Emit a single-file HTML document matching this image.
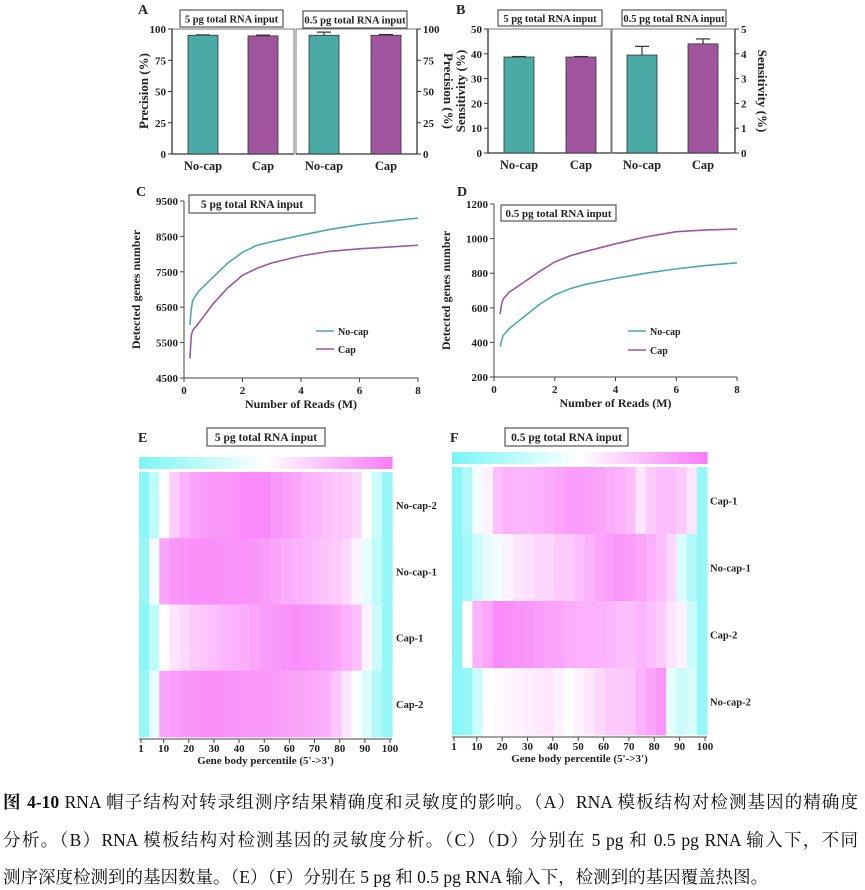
<!DOCTYPE html>
<html><head><meta charset="utf-8">
<style>
html,body{margin:0;padding:0;background:#fff;}
body{width:865px;height:890px;position:relative;overflow:hidden;}
svg{position:absolute;left:0;top:0;}
svg text{font-family:"Liberation Serif","Noto Serif CJK SC",serif;font-weight:bold;fill:#222;}
.cap{position:absolute;left:3px;width:855px;font-family:"Liberation Serif","Noto Serif CJK SC",serif;font-size:17.5px;color:#111;white-space:nowrap;text-align:justify;text-align-last:justify;line-height:20px;}
</style></head>
<body>
<svg id="fig" width="865" height="780"></svg>
<div class="cap" style="top:792px"><b>图 4-10</b> RNA 帽子结构对转录组测序结果精确度和灵敏度的影响。（A）RNA 模板结构对检测基因的精确度</div>
<div class="cap" style="top:830px">分析。（B）RNA 模板结构对检测基因的灵敏度分析。（C）（D）分别在 5 pg 和 0.5 pg RNA 输入下，不同</div>
<div class="cap" style="top:867px;width:auto;text-align-last:auto">测序深度检测到的基因数量。（E）（F）分别在 5 pg 和 0.5 pg RNA 输入下，检测到的基因覆盖热图。</div>
<script>
// ---- data ----
const barCats = ["No-cap","Cap"];
const precision5 = [95, 94.5];
const precision5Err = [0.3, 0.6];
const precision05 = [95, 95];
const precision05Err = [2.5, 0.6];
const sens5 = [38.7, 38.7];
const sens5Err = [0.2, 0.2];
const sens05 = [3.95, 4.4];
const sens05Err = [0.35, 0.2];
const precTicks = [0,25,50,75,100];
const sens5Ticks = [0,10,20,30,40,50];
const sens05Ticks = [0,1,2,3,4,5];

const readsX = [0.2,0.25,0.3,0.5,1,1.5,2,2.5,3,4,5,6,7,8];
const cNoCap = [6000,6450,6700,6950,7350,7750,8050,8250,8350,8530,8700,8830,8930,9020];
const cCap   = [5050,5700,5850,6050,6600,7050,7400,7600,7750,7950,8080,8150,8200,8250];
const dNoCap = [375,410,440,480,550,620,675,710,735,770,800,825,845,860];
const dCap   = [565,620,650,690,750,810,865,900,925,970,1010,1040,1050,1055];
const cYTicks = [4500,5500,6500,7500,8500,9500];
const dYTicks = [200,400,600,800,1000,1200];
const xTicks = [0,2,4,6,8];

const heatTicks = [1,10,20,30,40,50,60,70,80,90,100];
const eRows = ["No-cap-2","No-cap-1","Cap-1","Cap-2"];
const eNoCap2 = [0.05,0.25,0.5,0.7,0.8,0.85,0.88,0.9,0.9,0.92,0.95,0.95,0.95,0.9,0.88,0.85,0.8,0.78,0.75,0.72,0.7,0.65,0.5,0.3,0.1];
const eNoCap1 = [0.1,0.45,0.85,0.9,0.92,0.93,0.93,0.93,0.92,0.92,0.92,0.9,0.88,0.85,0.82,0.8,0.78,0.75,0.72,0.7,0.65,0.55,0.4,0.25,0.1];
const eCap1 = [0.05,0.25,0.5,0.6,0.65,0.7,0.72,0.75,0.78,0.8,0.82,0.85,0.88,0.9,0.92,0.93,0.92,0.9,0.88,0.85,0.8,0.75,0.55,0.3,0.1];
const eCap2 = [0.1,0.4,0.85,0.88,0.9,0.92,0.93,0.93,0.92,0.92,0.9,0.9,0.9,0.88,0.87,0.85,0.85,0.82,0.8,0.72,0.6,0.5,0.35,0.2,0.1];
const fRows = ["Cap-1","No-cap-1","Cap-2","No-cap-2"];
const fCap1 = [0.05,0.2,0.45,0.55,0.75,0.8,0.78,0.78,0.8,0.82,0.85,0.88,0.88,0.87,0.85,0.82,0.8,0.75,0.6,0.7,0.75,0.75,0.7,0.6,0.1];
const fNoCap1 = [0.05,0.15,0.3,0.4,0.45,0.55,0.6,0.62,0.65,0.65,0.7,0.7,0.75,0.8,0.85,0.88,0.9,0.88,0.85,0.8,0.75,0.65,0.35,0.2,0.1];
const fCap2 = [0.05,0.5,0.8,0.85,0.95,0.93,0.92,0.9,0.88,0.85,0.85,0.82,0.8,0.8,0.8,0.78,0.75,0.75,0.78,0.75,0.7,0.6,0.55,0.3,0.1];
const fNoCap2 = [0.05,0.1,0.3,0.5,0.52,0.53,0.55,0.57,0.58,0.6,0.55,0.5,0.55,0.6,0.65,0.7,0.7,0.72,0.8,0.85,0.9,0.4,0.3,0.35,0.1];

const NS="http://www.w3.org/2000/svg";
const svg=document.getElementById('fig');
function mk(tag,attrs,parent){const e=document.createElementNS(NS,tag);for(const k in attrs)e.setAttribute(k,attrs[k]);(parent||svg).appendChild(e);return e;}
function txt(x,y,s,size,anchor,parent,rot){const t=mk('text',{x:x,y:y,'font-size':size,'text-anchor':anchor||'middle'},parent);if(rot)t.setAttribute('transform','rotate('+rot+' '+x+' '+y+')');t.textContent=s;return t;}
function lin(d0,d1,r0,r1){return v=>r0+(v-d0)*(r1-r0)/(d1-d0);}

function label(x,y,s){const t=txt(x,y,s,14,'start');

}
function titleBox(x,y,w,h,s,fs){const g=mk('g',{});


mk('rect',{x:x,y:y,width:w,height:h,fill:'#fff',stroke:'#555','stroke-width':1.2},g);txt(x+w/2,y+h/2+4,s,fs||11.5,'middle',g);}

const TEAL='#4aaaa5', PURP='#a0559e';
function barPanel(x0,x1,yTop,yBot,max,vals,errs,barX,ticks,side,frame,name){
  const g=mk('g',{});
  
  
  const ys=lin(0,max,yBot,yTop);
  if(frame) mk('rect',{x:x0,y:yTop,width:x1-x0,height:yBot-yTop,fill:'none',stroke:'#777','stroke-width':1},g);
  const ax = side==='left'?x0:x1;
  mk('line',{x1:ax,y1:yTop,x2:ax,y2:yBot,stroke:'#333','stroke-width':1.3},g);
  mk('line',{x1:x0,y1:yBot,x2:x1,y2:yBot,stroke:'#333','stroke-width':1.3},g);
  ticks.forEach(t=>{const y=ys(t);const d=side==='left'?-4:4;
    mk('line',{x1:ax,y1:y,x2:ax+d,y2:y,stroke:'#333'},g);
    txt(ax+(side==='left'?-6:6),y+4,String(t),11,side==='left'?'end':'start',g);});
  vals.forEach((v,i)=>{const bx=barX[i];const by=ys(v);
    const r=mk('rect',{x:bx,y:by,width:30,height:yBot-by,fill:i===0?TEAL:PURP,stroke:'#333','stroke-width':0.8},g);
    
    
    const ey=ys(v+errs[i]);
    mk('line',{x1:bx+15,y1:by,x2:bx+15,y2:ey,stroke:'#333','stroke-width':1.2},g);
    mk('line',{x1:bx+8,y1:ey,x2:bx+22,y2:ey,stroke:'#333','stroke-width':1.2},g);
    txt(bx+15,yBot+16,barCats[i],12.5,'middle',g);
  });
}
label(138,14,'A');
barPanel(172,294,29,154,100,precision5,precision5Err,[188,248],precTicks,'left',true,'precision-5pg-chart');
barPanel(296,417,29,154,100,precision05,precision05Err,[309,371],precTicks,'right',true,'precision-05pg-chart');
titleBox(180,10,103,17,'5 pg total RNA input',10.5);
titleBox(303,11,104,17,'0.5 pg total RNA input',10.5);
txt(148,91,'Precision (%)',13,'middle',null,-90);
txt(444,91,'Precision (%)',13,'middle',null,90);
label(456,14,'B');
barPanel(488,611,29,153,50,sens5,sens5Err,[504,566],sens5Ticks,'left',true,'sensitivity-5pg-chart');
barPanel(612,735,29,153,5,sens05,sens05Err,[627,688],sens05Ticks,'right',true,'sensitivity-05pg-chart');
titleBox(498,10,104,16,'5 pg total RNA input',10.5);
titleBox(622,10,104,16,'0.5 pg total RNA input',10.5);
txt(465,91,'Sensitivity (%)',13,'middle',null,-90);
txt(758,91,'Sensitivity (%)',13,'middle',null,90);

function linePanel(x0,x1,yTop,yBot,ymin,ymax,yt,series,names,colors,legX,legY,name){
  const g=mk('g',{});
  
  
  const xs=lin(0,8,x0,x1), ys=lin(ymin,ymax,yBot,yTop);
  mk('line',{x1:x0,y1:yTop,x2:x0,y2:yBot,stroke:'#444'},g);
  mk('line',{x1:x0,y1:yBot,x2:x1,y2:yBot,stroke:'#444'},g);
  yt.forEach(t=>{const y=ys(t);mk('line',{x1:x0-4,y1:y,x2:x0,y2:y,stroke:'#444'},g);txt(x0-6,y+4,String(t),11,'end',g);});
  xTicks.forEach(t=>{const x=xs(t);mk('line',{x1:x,y1:yBot,x2:x,y2:yBot+4,stroke:'#444'},g);txt(x,yBot+16,String(t),11,'middle',g);});
  series.forEach((s,i)=>{
    const p=mk('polyline',{points:s.map((v,j)=>xs(readsX[j])+','+ys(v)).join(' '),fill:'none',stroke:colors[i],'stroke-width':1.6},g);
    
    
    const ly=legY[i];
    mk('line',{x1:legX,y1:ly,x2:legX+18,y2:ly,stroke:colors[i],'stroke-width':1.6},g);
    txt(legX+22,ly+4,names[i],10,'start',g);
  });
  txt((x0+x1)/2,yBot+30,'Number of Reads (M)',12,'middle',g);
  txt(x0-44,(yTop+yBot)/2,'Detected genes number',12,'middle',g,-90);
}
label(136,196,'C');
linePanel(184,418,201,378,4500,9500,cYTicks,[cNoCap,cCap],['No-cap','Cap'],[TEAL,PURP],316,[331,349],'genes-5pg-chart');
titleBox(189,195,126,18,'5 pg total RNA input');
label(457,196,'D');
linePanel(494,737,204,377,200,1200,dYTicks,[dNoCap,dCap],['No-cap','Cap'],[TEAL,PURP],628,[331,350],'genes-05pg-chart');
titleBox(501,205,115,16,'0.5 pg total RNA input',11);

function col(v){const c=[125,245,245],w=[255,255,255],m=[248,125,248];let a,b,t;
  if(v<0.5){a=c;b=w;t=v/0.5;}else{a=w;b=m;t=(v-0.5)/0.5;}
  return 'rgb('+a.map((x,i)=>Math.round(x+(b[i]-x)*t)).join(',')+')';}
function heat(x0,x1,cbY,cbH,yTop,yBot,rows,data,labX,name){
  const g=mk('g',{});
  
  
  const N=60;
  const cb=mk('g',{},g);
  
  
  for(let i=0;i<N;i++){mk('rect',{x:x0+(x1-x0)*i/N,y:cbY,width:(x1-x0)/N+0.6,height:cbH,fill:col(i/(N-1))},cb);}
  const rh=(yBot-yTop)/rows.length;
  data.forEach((row,r)=>{
    const n=row.length;
    row.forEach((v,i)=>{
      const c=mk('rect',{x:x0+(x1-x0)*i/n,y:yTop+r*rh,width:(x1-x0)/n+0.6,height:rh+0.4,fill:col(v)},g);
      
      
    });
    txt(labX,yTop+r*rh+rh/2+4,rows[r],10.5,'start',g);
  });
  const xs=lin(1,100,x0+2,x1-2);
  mk('line',{x1:x0,y1:yBot+2,x2:x1,y2:yBot+2,stroke:'#444'},g);
  heatTicks.forEach(t=>{const x=xs(t);mk('line',{x1:x,y1:yBot+2,x2:x,y2:yBot+6,stroke:'#444'},g);txt(x,yBot+15,String(t),11,'middle',g);});
  txt((x0+x1)/2,yBot+27,"Gene body percentile (5'->3')",11,'middle',g);
}
label(138,442,'E');
titleBox(207,428,118,18,'5 pg total RNA input');
heat(139,392,457,12,472,737,eRows,[eNoCap2,eNoCap1,eCap1,eCap2],396,'heatmap-5pg');
label(450,442,'F');
titleBox(505,428,123,18,'0.5 pg total RNA input');
heat(452,707,452,12,467,735,fRows,[fCap1,fNoCap1,fCap2,fNoCap2],710,'heatmap-05pg');
</script>
</body></html>
